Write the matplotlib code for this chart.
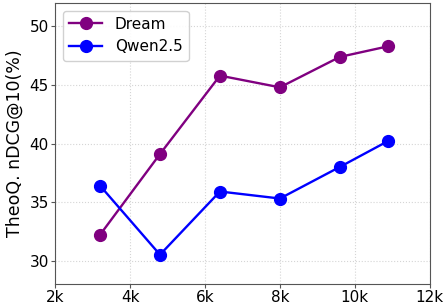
import matplotlib
matplotlib.use('Agg')
import matplotlib.pyplot as plt
from matplotlib.ticker import FuncFormatter

# context length (tokens) and scores
ctx_len = [3200, 4800, 6400, 8000, 9600, 10880]
dream = [32.2, 39.1, 45.8, 44.8, 47.4, 48.3]
qwen = [36.4, 30.5, 35.9, 35.3, 38.0, 40.2]
x_ticks = [2000, 4000, 6000, 8000, 10000, 12000]
y_ticks = [30, 35, 40, 45, 50]

fig, ax = plt.subplots(figsize=(4.44, 3.06), dpi=100)

ax.plot(ctx_len, dream, color='purple', marker='o', markersize=8.5, linewidth=1.7, label='Dream')
ax.plot(ctx_len, qwen, color='blue', marker='o', markersize=8.5, linewidth=1.7, label='Qwen2.5')

ax.set_xlim(2000, 12000)
ax.set_ylim(28, 52)
ax.set_xticks(x_ticks)
ax.set_yticks(y_ticks)
ax.xaxis.set_major_formatter(FuncFormatter(lambda v, p: f'{int(v / 1000)}k'))
ax.tick_params(labelsize=11, length=3, pad=1.5, color='#555555')
ax.set_ylabel('TheoQ. nDCG@10(%)', fontsize=12.5, labelpad=4)

ax.grid(True, linestyle=':', color='#d5d5d5', linewidth=0.8)
for s in ax.spines.values():
    s.set_color('#555555')

ax.legend(loc='upper left', fontsize=11, framealpha=0.9, handlelength=2.2)

plt.subplots_adjust(left=0.124, right=0.968, top=0.99, bottom=0.072)
plt.savefig('out.png')
